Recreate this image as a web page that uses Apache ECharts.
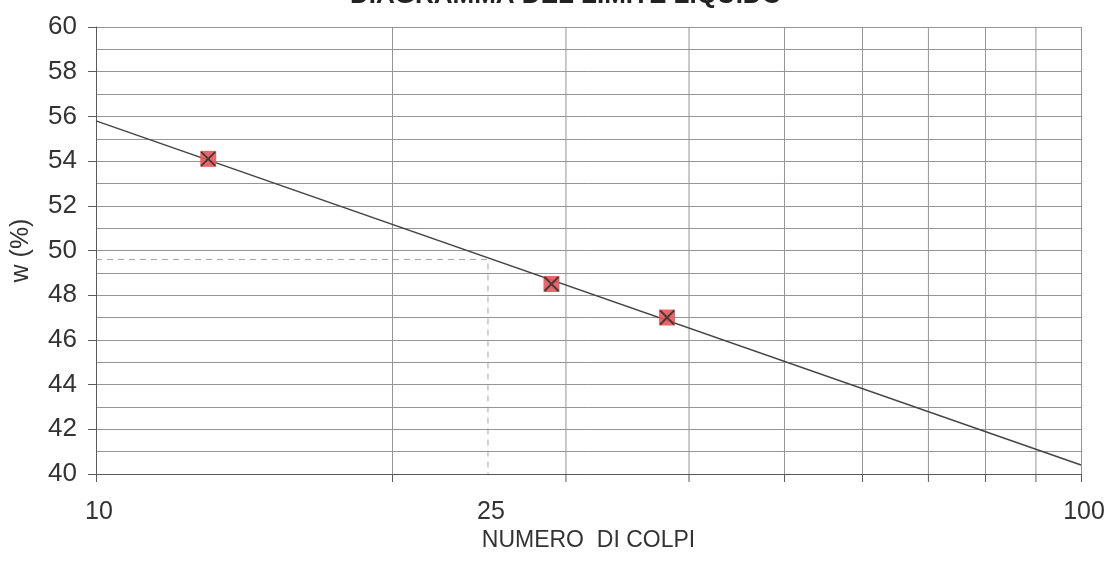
<!DOCTYPE html>
<html>
<head>
<meta charset="utf-8">
<style>
  html, body { margin: 0; padding: 0; background: #ffffff; }
  #chart { width: 1104px; height: 570px; }
</style>
<script src="https://cdn.jsdelivr.net/npm/echarts@6/dist/echarts.min.js"></script>
</head>
<body>
<div id="chart"></div>
<script>
// Casagrande test: number of blows vs water content
const blows = [13, 29, 38];
const waterContent = [54.1, 48.5, 47.0];

// Fitted flow line (semi-log), read at the ends of the axis
const flowLineBlows = [10, 100];
const flowLineW = [55.8, 40.4];

// Liquid limit read at 25 blows
const refBlows = 25;
const liquidLimit = 49.6;

// Axis structure
const xMin = 10, xMax = 100;
const yMin = 40, yMax = 60, yStep = 2;
const xGridBlows = [20, 30, 40, 50, 60, 70, 80, 90];
const xTickLabels = [10, 25, 100];

const FONT = '"Liberation Sans", Arial, sans-serif';
const TEXT = '#333333';
const GRID = '#959595';
const AXIS = '#5a5a5a';

const chart = echarts.init(document.getElementById('chart'), null, { renderer: 'canvas' });

const points = blows.map((b, i) => [b, waterContent[i]]);
const flowLine = flowLineBlows.map((b, i) => [b, flowLineW[i]]);

chart.setOption({
  backgroundColor: '#ffffff',
  animation: false,
  title: {
    text: 'DIAGRAMMA DEL LIMITE LIQUIDO',
    left: 345,
    top: -22,
    textStyle: { fontFamily: FONT, fontSize: 26, fontWeight: 'bold', color: '#222' }
  },
  grid: { left: 96, right: 23, top: 27, bottom: 96, containLabel: false },
  xAxis: {
    type: 'log',
    logBase: 10,
    min: xMin,
    max: xMax,
    name: 'NUMERO  DI COLPI',
    nameLocation: 'middle',
    nameGap: 55,
    nameTextStyle: { fontFamily: FONT, fontSize: 23, color: TEXT },
    axisLine: { show: true, lineStyle: { color: AXIS, width: 1 } },
    axisTick: { show: true, inside: false, length: 8, lineStyle: { color: AXIS } },
    axisLabel: { show: false },
    splitLine: { show: true, lineStyle: { color: GRID, width: 1 } },
    minorTick: { show: false },
    minorSplitLine: { show: false }
  },
  yAxis: {
    type: 'value',
    min: yMin,
    max: yMax,
    interval: yStep,
    name: 'w (%)',
    nameLocation: 'middle',
    nameGap: 62,
    nameTextStyle: { fontFamily: FONT, fontSize: 25, color: TEXT },
    axisLine: { show: true, lineStyle: { color: AXIS, width: 1 } },
    axisTick: { show: true, inside: false, length: 8, lineStyle: { color: AXIS } },
    axisLabel: { margin: 19, fontFamily: FONT, fontSize: 26, color: TEXT },
    splitLine: { show: true, lineStyle: { color: GRID, width: 1 } },
    minorTick: { show: false, splitNumber: 2 },
    minorSplitLine: { show: true, lineStyle: { color: GRID, width: 1 } }
  },
  series: [
    {
      // vertical grid lines at intermediate blow counts, with outer ticks
      type: 'custom',
      silent: true,
      z: 1,
      data: xGridBlows.map(v => [v]),
      renderItem: function (params, api) {
        const top = api.coord([api.value(0), yMax]);
        const bottom = api.coord([api.value(0), yMin]);
        return {
          type: 'group',
          children: [
            { type: 'line', shape: { x1: top[0], y1: top[1], x2: bottom[0], y2: bottom[1] },
              style: { stroke: GRID, lineWidth: 1 } },
            { type: 'line', shape: { x1: bottom[0], y1: bottom[1], x2: bottom[0], y2: bottom[1] + 8 },
              style: { stroke: AXIS, lineWidth: 1 } }
          ]
        };
      }
    },
    {
      // x tick labels (10, 25, 100)
      type: 'custom',
      silent: true,
      z: 5,
      data: xTickLabels.map(v => [v]),
      renderItem: function (params, api) {
        const p = api.coord([api.value(0), yMin]);
        return {
          type: 'text',
          style: {
            text: String(api.value(0)),
            x: p[0] + 3,
            y: p[1] + 38,
            align: 'center',
            verticalAlign: 'middle',
            font: '25px ' + FONT,
            fill: TEXT
          }
        };
      }
    },
    {
      // dashed read-off of the liquid limit at 25 blows
      type: 'line',
      silent: true,
      symbol: 'none',
      z: 3,
      lineStyle: { color: '#b0a0a0', width: 1, type: [6, 5] },
      data: [[xMin, liquidLimit], [refBlows, liquidLimit], [refBlows, yMin]]
    },
    {
      // flow line
      type: 'line',
      silent: true,
      symbol: 'none',
      z: 4,
      lineStyle: { color: '#454545', width: 1.5 },
      data: flowLine
    },
    {
      type: 'scatter',
      z: 6,
      symbol: 'rect',
      symbolSize: 16,
      itemStyle: { color: '#e2595b', opacity: 0.9 },
      data: points
    },
    {
      type: 'scatter',
      z: 7,
      symbol: 'path://M0,0L10,10M10,0L0,10',
      symbolSize: 14,
      itemStyle: { color: 'none', borderColor: '#2b2b2b', borderWidth: 2 },
      data: points
    }
  ]
});
</script>
</body>
</html>
